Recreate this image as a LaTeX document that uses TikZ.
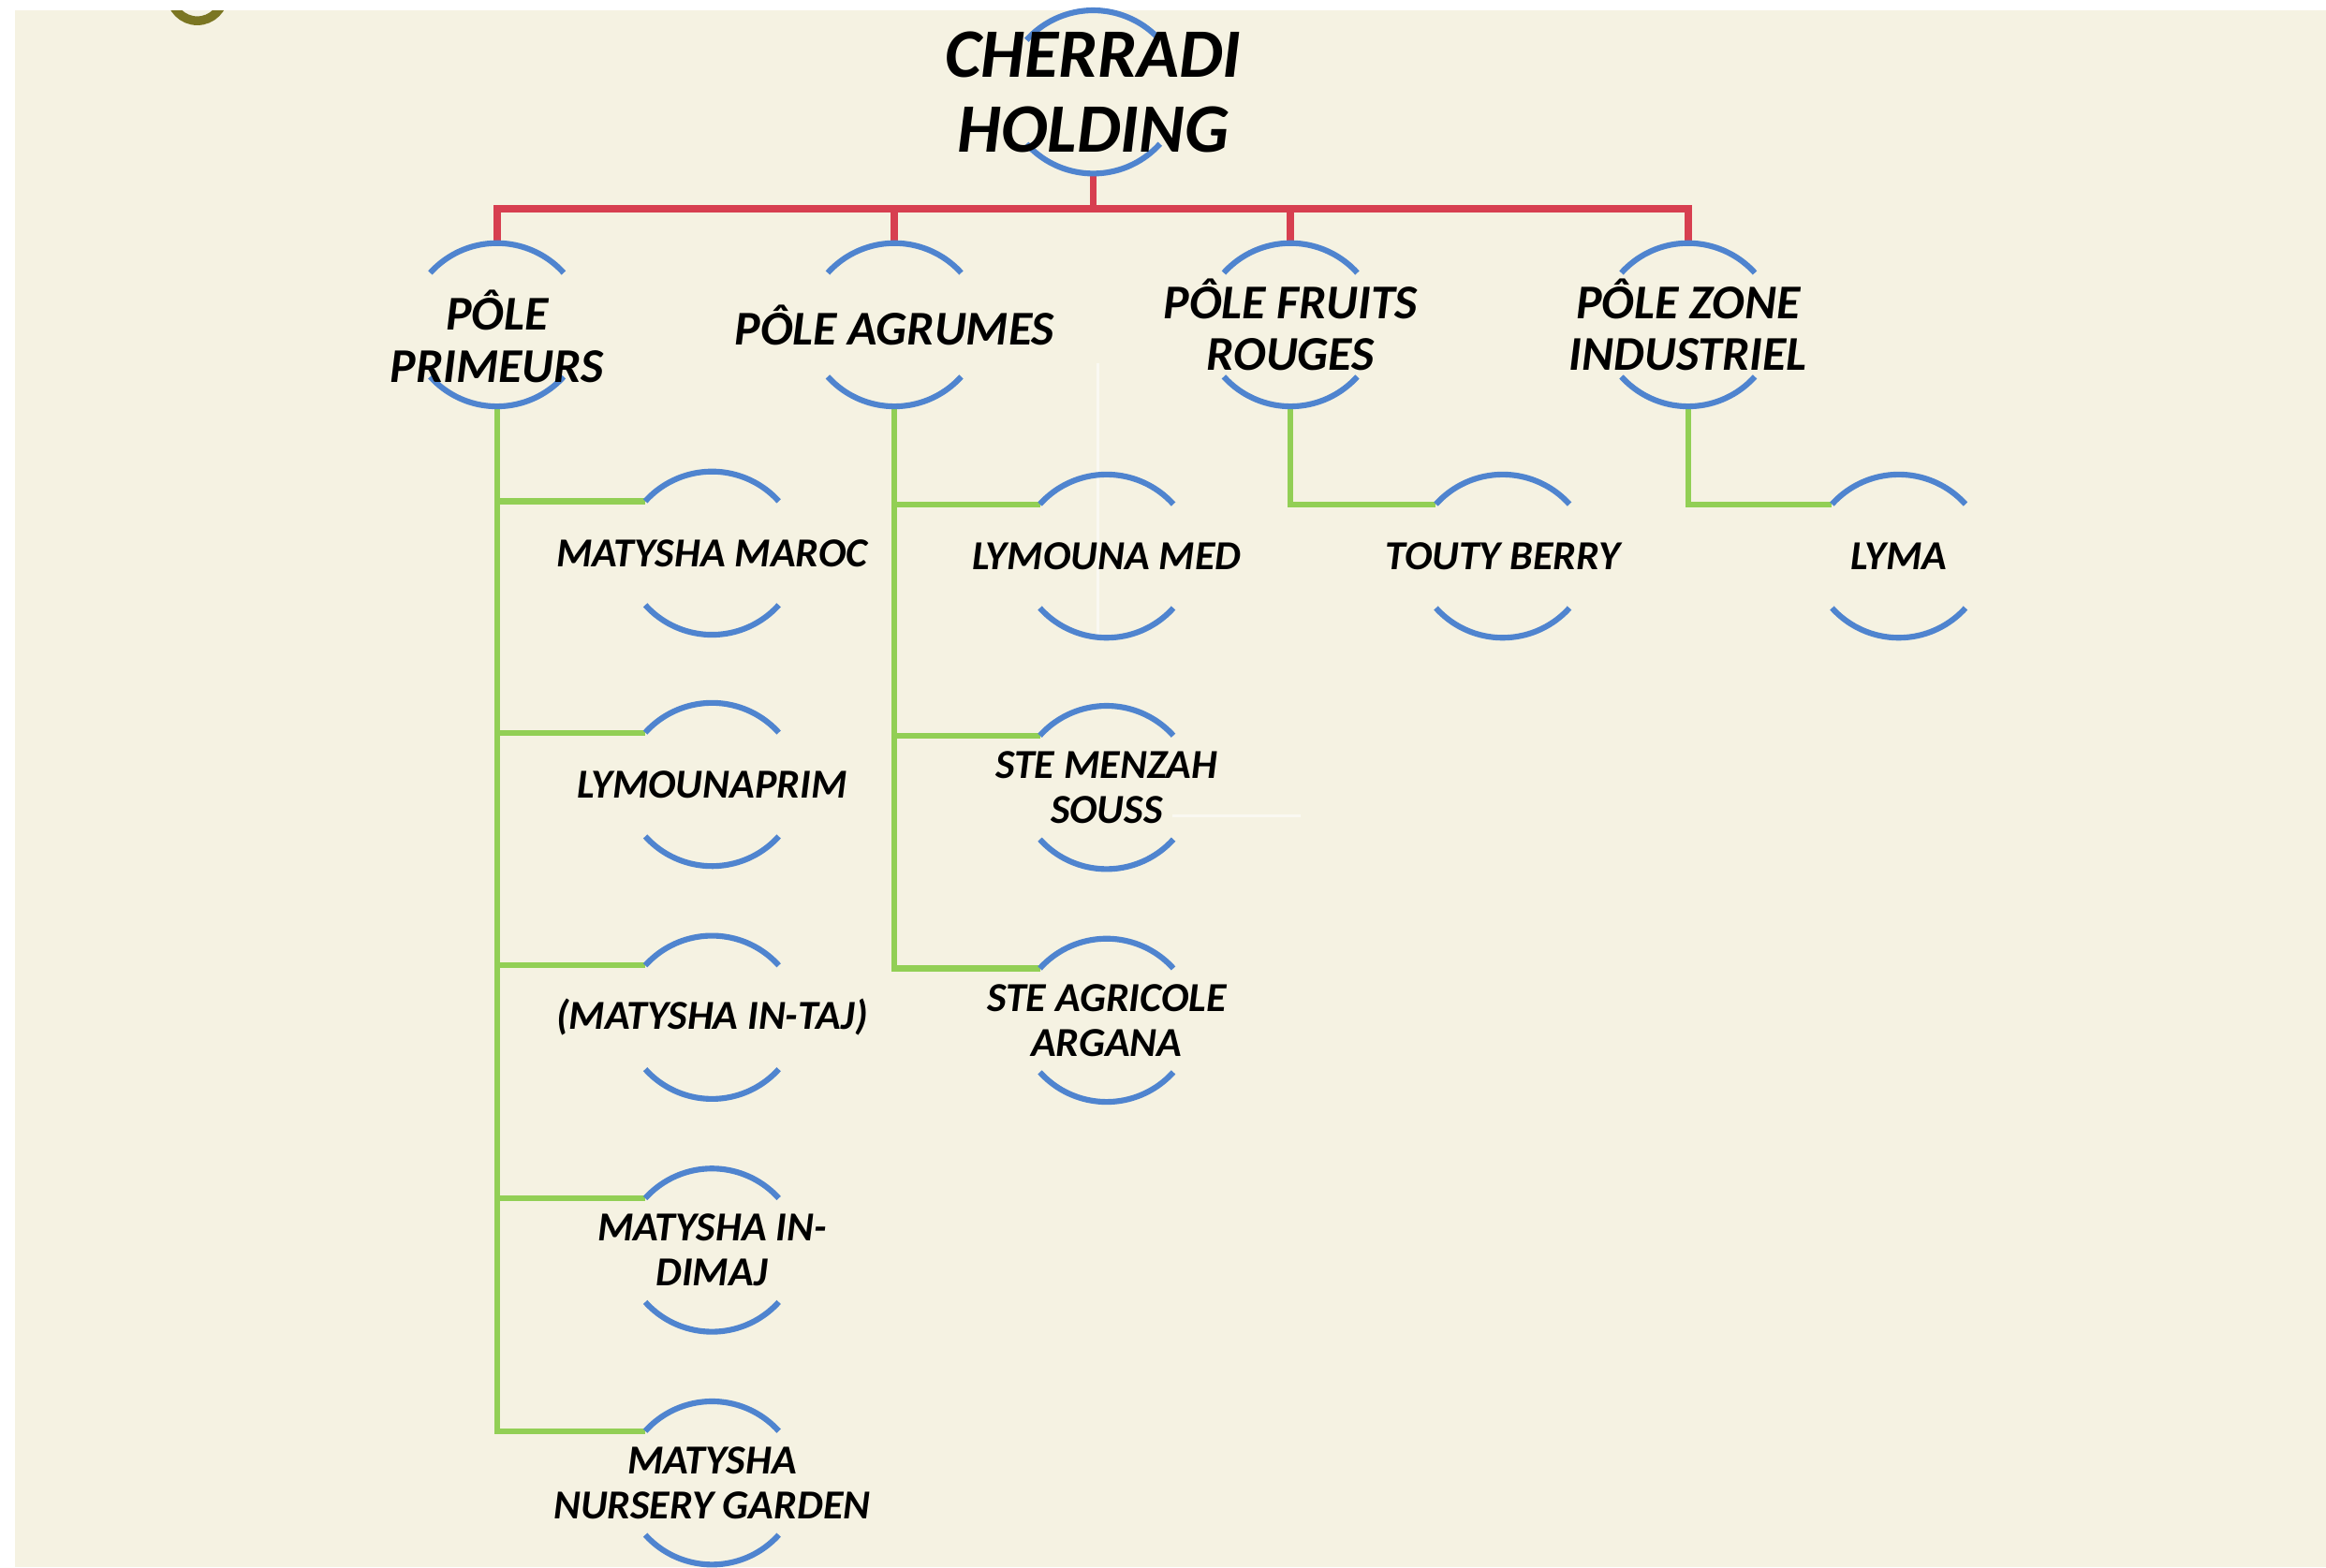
\documentclass[tikz,border=0pt]{standalone}
\usepackage{fontspec}
\setmainfont{Carlito}
\usetikzlibrary{calc,backgrounds}
\definecolor{cream}{HTML}{F5F2E2}
\definecolor{haloblue}{HTML}{4F84CF}
\definecolor{linkred}{HTML}{D73F50}
\definecolor{linkgreen}{HTML}{92CF55}
\definecolor{olive}{HTML}{7B7622}
\def\halo(#1){\draw[haloarc] ($(#1.center)+(-45,35)$) arc (138:42:0.605cm); \draw[haloarc] ($(#1.center)+(-45,-35)$) arc (222:318:0.605cm);}

\tikzset{
	unit/.style={draw=none, minimum height=1.1cm, inner sep=0pt, align=center, font=\bfseries\itshape\fontsize{7.9}{8.6}\selectfont},
	pole/.style={unit, font=\bfseries\itshape\fontsize{9.3}{10}\selectfont},
	headunit/.style={unit, font=\bfseries\itshape\fontsize{13.3}{14.4}\selectfont},
	haloarc/.style={draw=haloblue, line width=1.1pt},
	redlink/.style={draw=linkred, line width=1.4pt},
	greenlink/.style={draw=linkgreen, line width=1.1pt},
}

\begin{document}
\begin{tikzpicture}[x=0.01cm, y=0.01cm]
			%%%%% START %%%%%
			\useasboundingbox (0, 0) rectangle (1568, 1057);
			
			\node[headunit] (holding) at (737, 995) {CHERRADI\\HOLDING};
			
			\node[pole] (primeurs) at (335, 838) {\rule{0pt}{12pt}PÔLE\\PRIMEURS};
			\node[pole] (agrumes) at (603, 838) {PÔLE AGRUMES};
			\node[pole] (fruits) at (870, 838) {PÔLE FRUITS\\ROUGES};
			\node[pole] (zone) at (1138, 838) {PÔLE ZONE\\INDUSTRIEL};
			
			\node[unit] (maroc) at (480, 684) {MATYSHA MAROC};
			\node[unit] (lymprim) at (480, 528) {LYMOUNAPRIM};
			\node[unit] (intaj) at (480, 371) {(MATYSHA IN-TAJ)};
			\node[unit] (indimaj) at (480, 214) {MATYSHA IN-\\DIMAJ};
			\node[unit] (nursery) at (480, 57) {MATYSHA\\NURSERY GARDEN};
			
			\node[unit] (lymed) at (746, 682) {LYMOUNA MED};
			\node[unit] (menzah) at (746, 526) {STE MENZAH\\SOUSS};
			\node[unit] (argana) at (746, 369) {STE AGRICOLE\\ARGANA};
			
			\node[unit] (touty) at (1013, 682) {TOUTY BERRY};
			\node[unit] (lyma) at (1280, 682) {LYMA};
			
			\begin{scope}[on background layer]
				\fill[cream] (10, 0) rectangle (1568, 1050);
				\begin{scope}
					\clip (10, 0) rectangle (1568, 1050);
					\draw[olive, line width=0.06cm] (133, 1061) circle (0.18cm);
				\end{scope}
				
				% faint marks
				\draw[white!55!cream, line width=0.02cm] (740, 812) -- (740, 627);
				\draw[white!55!cream, line width=0.02cm] (790, 507) -- (877, 507);
				
				\draw[redlink] (holding.south) -- ++(0, -23) -| (primeurs.north);
				\draw[redlink] (holding.south) -- ++(0, -23) -| (agrumes.north);
				\draw[redlink] (holding.south) -- ++(0, -23) -| (fruits.north);
				\draw[redlink] (holding.south) -- ++(0, -23) -| (zone.north);
				
				\foreach \n in {maroc, lymprim, intaj, indimaj, nursery}
					\draw[greenlink] (primeurs.south) |- ($(\n.center)+(-45, 35)$);
				\foreach \n in {lymed, menzah, argana}
					\draw[greenlink] (agrumes.south) |- ($(\n.center)+(-45, 35)$);
				\draw[greenlink] (fruits.south) |- ($(touty.center)+(-45, 35)$);
				\draw[greenlink] (zone.south) |- ($(lyma.center)+(-45, 35)$);
				
				\foreach \n in {holding, primeurs, agrumes, fruits, zone, maroc, lymprim, intaj, indimaj, nursery, lymed, menzah, argana, touty, lyma}
					{\halo(\n)}
			\end{scope}
			
			%%%%% END %%%%%
\end{tikzpicture}
\end{document}
